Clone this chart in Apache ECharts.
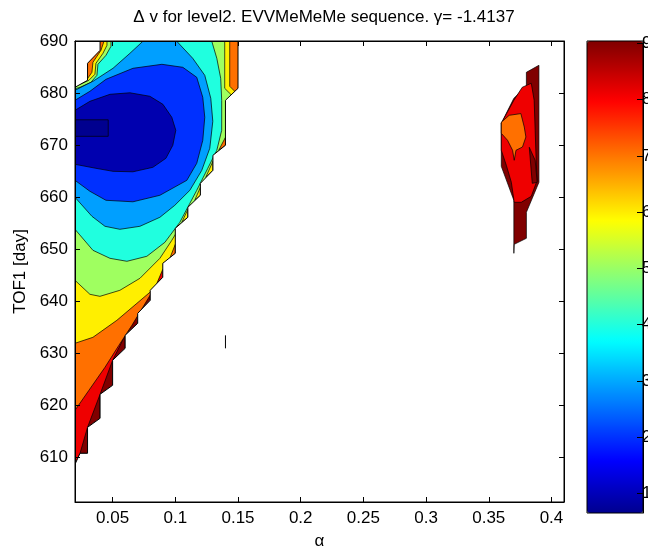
<!DOCTYPE html>
<html><head><meta charset="utf-8">
<script src="https://cdn.jsdelivr.net/npm/echarts@6/dist/echarts.min.js"></script>
<style>html,body{margin:0;padding:0;background:#fff}#c{width:648px;height:550px}</style>
</head><body><div id="c"></div>
<script>
// ---------- axes / scale data ----------
const xTicks = [0.05, 0.1, 0.15, 0.2, 0.25, 0.3, 0.35, 0.4];
const yTicks = [610, 620, 630, 640, 650, 660, 670, 680, 690];
const cbTicks = [1, 2, 3, 4, 5, 6, 7, 8, 9];
const xRange = [0.02, 0.41];
const yRange = [601.35, 690];
const cRange = [0.655, 9.04];
const contourLevels = [1, 2, 3, 4, 5, 6, 7, 8, 9];

// ---------- NaN boundary of the valid region (alpha, TOF1) ----------
const nanCornerTL = [[0.02,681.1],[0.03,682.44],[0.03,685.71],[0.04,688.21],[0.04,690]];
const nanEdge = [[0.15,690],[0.15,680.9],[0.14,678.6],[0.14,669.94],[0.13,668.02],[0.13,665.13],
  [0.12,662.63],[0.12,660.33],[0.11,658.02],[0.11,656.1],[0.10,653.98],[0.10,649.17],[0.09,647.25],
  [0.09,644.56],[0.08,642.06],[0.08,640.13],[0.07,637.63],[0.07,635.71],[0.06,633.4],[0.06,630.9],
  [0.05,628.6],[0.05,623.79],[0.04,622.06],[0.04,617.44],[0.03,615.71],[0.03,610.71],[0.024,610.71],[0.02,608.6]];

// ---------- filled contour regions: value < level ----------
const contour9 = [[0.008,692.06],[0.1673,692.06],[0.1673,668.98],[0.1315,649.75],[0.0877,643.02],[0.08,642.06],
  [0.07,637.63],[0.06,633.4],[0.05,628.6],[0.04,622.06],[0.03,615.71],[0.024,610.71],[0.016,606.48],[0.008,606.48]];
const contour8 = [[0.008,692.06],[0.1593,692.06],[0.1593,668.98],[0.1235,651.67],[0.0917,643.6],[0.0813,641.67],
  [0.0741,638.79],[0.0654,635.33],[0.055,631.48],[0.0439,627.25],[0.0311,622.83],[0.02,618.98],[0.008,618.98]];
const contour7 = [[0.0431,692.06],[0.1434,692.06],[0.1434,681.29],[0.1482,680.13],[0.1514,676.67],[0.1434,667.06],
  [0.1195,653.6],[0.0996,647.44],[0.0877,643.6],[0.0797,641.67],[0.0694,639.56],[0.0534,636.29],[0.0343,633.02],
  [0.02,631.87],[0.008,631.87],[0.008,682.44],[0.024,682.06],[0.0296,682.63],[0.0335,683.98],[0.0343,685.9],
  [0.0407,688.21],[0.0431,689.94]];
const contour6 = [[0.0455,692.06],[0.1394,692.06],[0.1394,680.9],[0.145,679.56],[0.145,674.75],[0.1339,666.1],
  [0.1235,660.9],[0.1147,658.79],[0.1068,655.52],[0.0972,651.67],[0.0877,648.21],[0.0718,644.37],[0.0558,642.06],
  [0.0399,640.9],[0.0319,641.29],[0.02,643.98],[0.008,643.98],[0.008,681.67],[0.024,681.67],[0.0311,682.44],
  [0.0359,683.6],[0.0367,685.71],[0.0423,687.63],[0.0455,689.17]];
const contour5 = [[0.0487,692.06],[0.1291,692.06],[0.1291,689.94],[0.1331,686.67],[0.1362,682.83],[0.137,678.6],
  [0.137,672.83],[0.1331,668.98],[0.1259,665.52],[0.1171,661.29],[0.1116,658.79],[0.1036,655.13],[0.0917,651.29],
  [0.0773,648.6],[0.0614,647.64],[0.0479,648.21],[0.0343,649.75],[0.02,653.79],[0.008,653.79],[0.008,680.81],
  [0.02,680.81],[0.024,681.1],[0.0327,682.06],[0.0375,683.4],[0.0383,685.52],[0.0447,687.25],[0.0487,688.98]];
const contour4 = [[0.008,680.52],[0.02,680.52],[0.0343,682.25],[0.0503,684.75],[0.0638,687.63],[0.0741,689.94],
  [0.0757,692.06],[0.0996,692.06],[0.1012,689.94],[0.1139,686.67],[0.1235,683.4],[0.1283,678.98],[0.1299,674.56],
  [0.1275,669.37],[0.1211,665.13],[0.1116,661.29],[0.0996,658.4],[0.0877,656.1],[0.0718,654.37],[0.0558,653.79],
  [0.0439,654.37],[0.0335,656.29],[0.02,659.94],[0.008,659.94]];
const contour3 = [[0.008,678.6],[0.02,678.6],[0.0319,680.33],[0.0447,682.63],[0.0662,684.75],[0.0893,685.52],
  [0.106,684.94],[0.1171,683.02],[0.1219,679.17],[0.1235,675.33],[0.1219,670.9],[0.1171,666.48],[0.1092,663.21],
  [0.0877,660.33],[0.0662,659.08],[0.0447,659.37],[0.0319,661.1],[0.02,663.21],[0.008,663.21]];
const contour2 = [[0.008,676.67],[0.02,676.67],[0.0319,678.4],[0.0479,679.75],[0.0638,680.04],[0.0797,679.37],
  [0.0901,677.83],[0.0972,675.33],[0.1004,672.83],[0.098,669.94],[0.0925,667.44],[0.0821,665.71],[0.0662,664.85],
  [0.0503,664.94],[0.0367,665.52],[0.02,666.29],[0.008,666.29]];
const contour1 = [[0.008,674.85],[0.0465,674.85],[0.0465,671.67],[0.008,671.67]];

// small cut triangles at the NaN staircase: [level of fill, vertices]
const notchLevels = [7, 6, 6, 6, 7, 8];
const notchTriangles = [
  [[0.14,671.48],[0.14,669.94],[0.1346,668.98]],
  [[0.13,666.87],[0.13,665.13],[0.1243,663.79]],
  [[0.12,661.87],[0.12,660.33],[0.1155,659.37]],
  [[0.11,657.63],[0.11,656.1],[0.1052,655.13]],
  [[0.10,650.9],[0.10,649.17],[0.0956,648.21]],
  [[0.09,646.1],[0.09,644.56],[0.0853,643.4]]
];

// ---------- second island (alpha ~ 0.36 - 0.39) ----------
const blobOuter = [[0.38,683.98],[0.39,685.33],[0.39,662.83],[0.38,657.06],[0.38,652.06],[0.3703,650.9],[0.37,649.17],
  [0.37,659.37],[0.36,665.9],[0.36,674.17],[0.37,678.98],[0.38,681.29]];
const blobLt9 = [[0.36,674.17],[0.37,678.6],[0.3767,681.1],[0.3839,681.87],[0.3862,678.6],[0.387,672.83],[0.3878,667.06],
  [0.3886,663.21],[0.3839,660.13],[0.3759,658.98],[0.3703,658.98],[0.368,662.83],[0.364,666.1],[0.36,668.98]];
const blobGe9 = [[0.3823,669.56],[0.387,667.06],[0.3886,662.83],[0.3847,662.63]];
const blobLt8 = [[0.36,674.37],[0.3663,675.71],[0.3756,676.04],[0.3783,673.46],[0.3796,671.54],[0.3769,669.62],
  [0.3717,668.98],[0.3703,667.06],[0.369,668.98],[0.365,670.9],[0.36,672.25]];
const strayMark = [[0.14,633.4],[0.14,630.9]];

// ---------- MATLAB jet(64) colormap ----------
function jetRow(k) {
  const n = 16, u = [];
  for (let i = 1; i <= n; i++) u.push(i / n);
  for (let i = 0; i < n - 1; i++) u.push(1);
  for (let i = n; i >= 1; i--) u.push(i / n);
  const pick = j => (j >= 1 && j <= u.length) ? u[j - 1] : 0;
  const r = pick(k - 24), g = pick(k - 8), b = pick(k + 8);
  const h = v => Math.round(v * 255).toString(16).padStart(2, '0');
  return '#' + h(r) + h(g) + h(b);
}
const jetColors = [];
for (let k = 1; k <= 64; k++) jetColors.push(jetRow(k));
function levelColor(v) {
  let k = Math.floor((v - cRange[0]) / (cRange[1] - cRange[0]) * 64) + 1;
  k = Math.max(1, Math.min(64, k));
  return jetRow(k);
}

const domainPoly = nanCornerTL.concat(nanEdge);
const pad = 8;
const maskRight = nanEdge.concat([[xRange[0] - 0.01, yRange[0] - pad], [xRange[1] + 0.01, yRange[0] - pad],
  [xRange[1] + 0.01, yRange[1] + pad], [nanEdge[0][0], yRange[1] + pad]]);
const maskTL = nanCornerTL.concat([[nanCornerTL[4][0], yRange[1] + pad], [xRange[0] - 0.01, yRange[1] + pad],
  [xRange[0] - 0.01, nanCornerTL[0][1]]]);

const lw = 0.7;
const shapes = [
  {pts: domainPoly, fill: levelColor(contourLevels[8])},
  {pts: contour9, fill: levelColor(contourLevels[7])},
  {pts: contour8, fill: levelColor(contourLevels[6])},
  {pts: contour7, fill: levelColor(contourLevels[5])},
  {pts: contour6, fill: levelColor(contourLevels[4])},
  {pts: contour5, fill: levelColor(contourLevels[3])},
  {pts: contour4, fill: levelColor(contourLevels[2])},
  {pts: contour3, fill: levelColor(contourLevels[1])},
  {pts: contour2, fill: levelColor(contourLevels[0])},
  {pts: contour1, fill: levelColor(cRange[0])}
];
notchTriangles.forEach((t, i) => shapes.push({pts: t, fill: levelColor(notchLevels[i])}));
shapes.push(
  {pts: maskRight, fill: '#ffffff', noStroke: true},
  {pts: maskTL, fill: '#ffffff', noStroke: true},
  {pts: nanEdge, line: true},
  {pts: nanCornerTL, line: true},
  {pts: blobOuter, fill: levelColor(contourLevels[8])},
  {pts: blobLt9, fill: levelColor(contourLevels[7])},
  {pts: blobGe9, fill: levelColor(contourLevels[8])},
  {pts: blobLt8, fill: levelColor(contourLevels[6])},
  {pts: strayMark, line: true}
);

const FONT = "'Liberation Sans', Arial, sans-serif";
const FS = 17;
const chart = echarts.init(document.getElementById('c'), null, {renderer: 'canvas'});
const fmtX = v => String(parseFloat(Number(v).toFixed(2)));
const tickStyle = {lineStyle: {color: '#000', width: 1}};

chart.setOption({
  animation: false,
  backgroundColor: '#fff',
  title: {
    text: 'Δ v for level2. EVVMeMeMe sequence. γ= -1.4137',
    left: 'center', top: 4,
    textStyle: {fontFamily: FONT, fontSize: FS, fontWeight: 'normal', color: '#000'}
  },
  grid: [
    {left: 75, top: 41, width: 489, height: 461, show: true, borderColor: '#000', borderWidth: 1, z: 10,
      backgroundColor: 'transparent', containLabel: false, outerBoundsMode: 'none'},
    {left: 587, top: 41, width: 56, height: 472, show: true, borderColor: '#000', borderWidth: 1, z: 10,
      backgroundColor: 'transparent', containLabel: false, outerBoundsMode: 'none'}
  ],
  xAxis: [
    {gridIndex: 0, type: 'value', position: 'bottom', min: xRange[0], max: xRange[1], z: 10,
      name: 'α', nameLocation: 'middle', nameGap: 31,
      nameTextStyle: {fontFamily: FONT, fontSize: FS, color: '#000'},
      axisLine: {show: true, onZero: false, lineStyle: {color: '#000'}},
      axisTick: Object.assign({show: true, inside: true, length: 5, customValues: xTicks}, tickStyle),
      axisLabel: {customValues: xTicks, formatter: fmtX, margin: 8, fontFamily: FONT, fontSize: FS, color: '#000'},
      splitLine: {show: false}},
    {gridIndex: 0, type: 'value', position: 'top', min: xRange[0], max: xRange[1], z: 10,
      axisLine: {show: true, onZero: false, lineStyle: {color: '#000'}},
      axisTick: Object.assign({show: true, inside: true, length: 5, customValues: xTicks}, tickStyle),
      axisLabel: {show: false}, splitLine: {show: false}},
    {gridIndex: 1, type: 'value', min: 0, max: 1, show: false}
  ],
  yAxis: [
    {gridIndex: 0, type: 'value', position: 'left', min: yRange[0], max: yRange[1], z: 10,
      name: 'TOF1 [day]', nameLocation: 'middle', nameGap: 45,
      nameTextStyle: {fontFamily: FONT, fontSize: FS, color: '#000'},
      axisLine: {show: true, onZero: false, lineStyle: {color: '#000'}},
      axisTick: Object.assign({show: true, inside: true, length: 5, customValues: yTicks}, tickStyle),
      axisLabel: {customValues: yTicks, formatter: v => String(Math.round(v)), margin: 7, fontFamily: FONT, fontSize: FS, color: '#000'},
      splitLine: {show: false}},
    {gridIndex: 0, type: 'value', position: 'right', min: yRange[0], max: yRange[1], z: 10,
      axisLine: {show: true, onZero: false, lineStyle: {color: '#000'}},
      axisTick: Object.assign({show: true, inside: true, length: 5, customValues: yTicks}, tickStyle),
      axisLabel: {show: false}, splitLine: {show: false}},
    {gridIndex: 1, type: 'value', position: 'right', min: cRange[0], max: cRange[1], z: 10,
      axisLine: {show: true, onZero: false, lineStyle: {color: '#000'}},
      axisTick: Object.assign({show: true, inside: true, length: 6, customValues: cbTicks}, tickStyle),
      axisLabel: {customValues: cbTicks, formatter: v => String(Math.round(v)), margin: -1, fontFamily: FONT, fontSize: FS, color: '#000'},
      splitLine: {show: false}}
  ],
  visualMap: {
    type: 'continuous', min: cRange[0], max: cRange[1], seriesIndex: 1,
    left: 587, top: 41, itemWidth: 56, itemHeight: 472, padding: 0,
    calculable: false, hoverLink: false, text: null, showLabel: false,
    inRange: {color: jetColors}
  },
  series: [
    {
      type: 'custom', coordinateSystem: 'cartesian2d', xAxisIndex: 0, yAxisIndex: 0,
      clip: true, silent: true, z: 2,
      data: shapes.map(s => s.pts[0]),
      renderItem: function (params, api) {
        const s = shapes[params.dataIndex];
        const pts = s.pts.map(p => api.coord(p));
        if (s.line) {
          return {type: 'polyline', z2: params.dataIndex, shape: {points: pts},
            style: {fill: null, stroke: '#000', lineWidth: 1}};
        }
        return {type: 'polygon', z2: params.dataIndex, shape: {points: pts},
          style: {fill: s.fill, stroke: s.noStroke ? null : '#000', lineWidth: lw}};
      }
    },
    {type: 'scatter', xAxisIndex: 2, yAxisIndex: 2, data: [], silent: true}
  ]
});
</script>
</body></html>
